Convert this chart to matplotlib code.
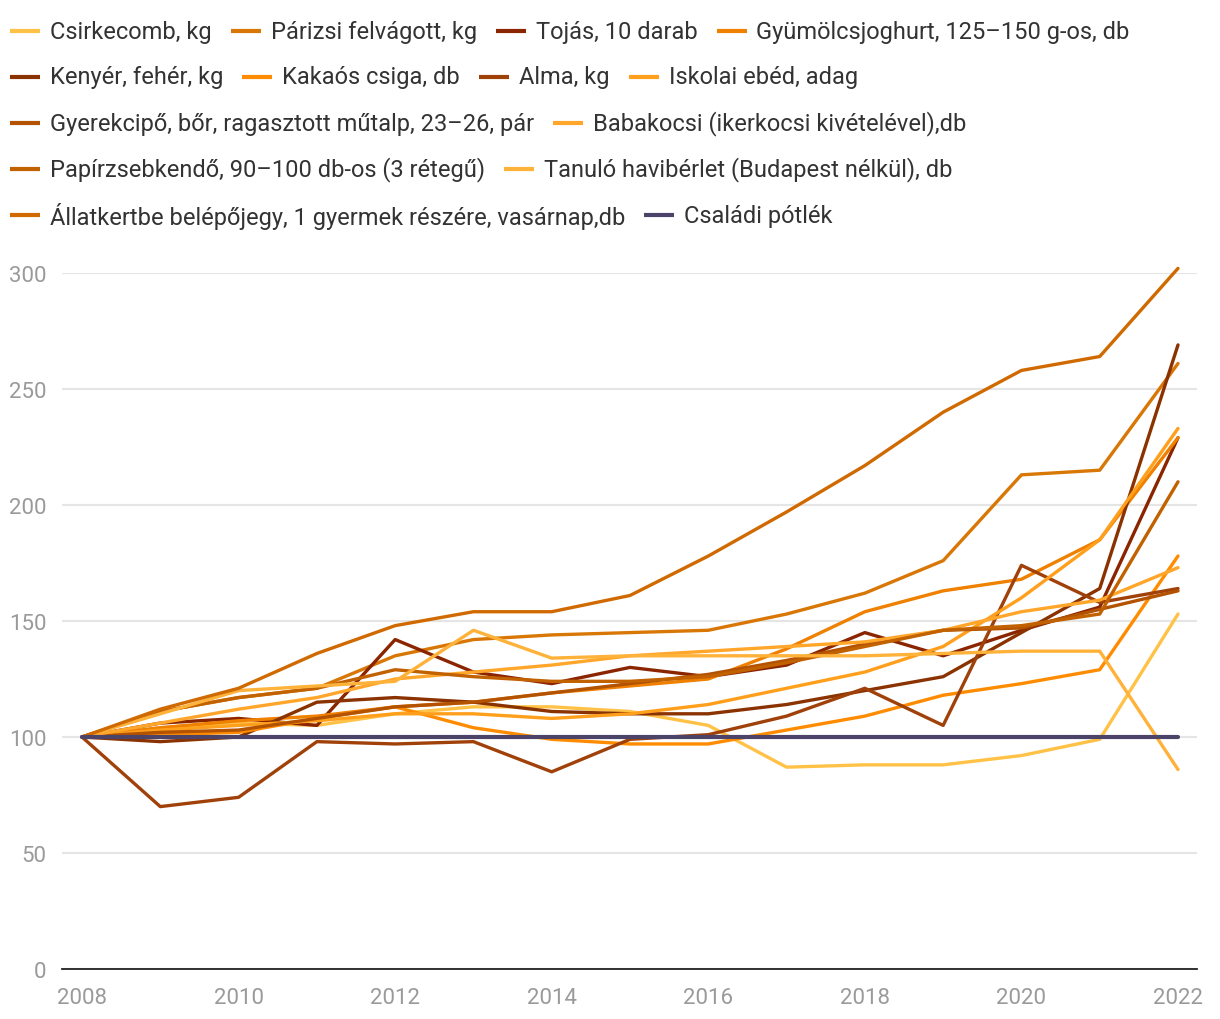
import matplotlib
matplotlib.use("Agg")
import matplotlib.pyplot as plt
from matplotlib.lines import Line2D

plt.rcParams['font.family'] = ['Roboto', 'DejaVu Sans']

years = list(range(2008, 2023))

csirkecomb = [100, 104, 106, 105, 110, 113, 113, 111, 105, 87, 88, 88, 92, 99, 153]
parizsi = [100, 111, 117, 121, 135, 142, 144, 145, 146, 153, 162, 176, 213, 215, 261]
tojas = [100, 106, 108, 105, 142, 128, 123, 130, 126, 131, 145, 135, 146, 156, 229]
joghurt = [100, 104, 107, 109, 113, 115, 119, 122, 125, 138, 154, 163, 168, 185, 229]
kenyer = [100, 98, 100, 115, 117, 115, 111, 110, 110, 114, 120, 126, 145, 164, 269]
kakaos = [100, 101, 102, 108, 113, 104, 99, 97, 97, 103, 109, 118, 123, 129, 178]
alma = [100, 70, 74, 98, 97, 98, 85, 99, 101, 109, 121, 105, 174, 158, 164]
iskolai = [100, 103, 105, 107, 110, 110, 108, 110, 114, 121, 128, 139, 160, 185, 233]
gyerekcipo = [100, 102, 103, 108, 113, 115, 119, 123, 127, 133, 140, 146, 147, 155, 163]
babakocsi = [100, 106, 112, 117, 125, 128, 131, 135, 137, 139, 141, 146, 154, 159, 173]
papirzsebkendo = [100, 111, 117, 121, 129, 126, 124, 124, 126, 132, 139, 146, 148, 153, 210]
tanulo = [100, 110, 120, 122, 124, 146, 134, 135, 135, 135, 135, 136, 137, 137, 86]
allatkert = [100, 112, 121, 136, 148, 154, 154, 161, 178, 197, 217, 240, 258, 264, 302]
csaladi = [100] * 15

labels = [
    "Csirkecomb, kg", "Párizsi felvágott, kg", "Tojás, 10 darab",
    "Gyümölcsjoghurt, 125–150 g-os, db", "Kenyér, fehér, kg", "Kakaós csiga, db",
    "Alma, kg", "Iskolai ebéd, adag", "Gyerekcipő, bőr, ragasztott műtalp, 23–26, pár",
    "Babakocsi (ikerkocsi kivételével),db", "Papírzsebkendő, 90–100 db-os (3 rétegű)",
    "Tanuló havibérlet (Budapest nélkül), db",
    "Állatkertbe belépőjegy, 1 gyermek részére, vasárnap,db", "Családi pótlék",
]
series = [csirkecomb, parizsi, tojas, joghurt, kenyer, kakaos, alma, iskolai,
          gyerekcipo, babakocsi, papirzsebkendo, tanulo, allatkert, csaladi]
colors = ["#FFC247", "#D97706", "#8B2500", "#F08000", "#8B3300", "#FF8C00",
          "#A0410A", "#FF9F1C", "#B35200", "#FFA62B", "#C26100", "#FFB23A",
          "#D06A00", "#4B4468"]
legend_rows = [[0, 1, 2, 3], [4, 5, 6, 7], [8, 9], [10, 11], [12, 13]]

W, H = 1220, 1020
fig = plt.figure(figsize=(W / 100, H / 100), dpi=100)
ax_left, ax_right, ax_bottom, ax_top = 62, 1197, 970, 274
ax = fig.add_axes([ax_left / W, (H - ax_bottom) / H, (ax_right - ax_left) / W, (ax_bottom - ax_top) / H])

x0, x1 = 82, 1178
ppy = (x1 - x0) / 14.0
ax.set_xlim(2008 - (x0 - ax_left) / ppy, 2022 + (ax_right - x1) / ppy)
ax.set_ylim(0, 300)

for i, (s, c) in enumerate(zip(series, colors)):
    lw = 3.0 if i == 13 else 2.4
    ax.plot(years, s, color=c, lw=lw, solid_capstyle='round', solid_joinstyle='round',
            zorder=3 + (5 if i == 13 else 0), clip_on=False)

ax.set_yticks([0, 50, 100, 150, 200, 250, 300])
ax.set_xticks(list(range(2008, 2023, 2)))
ax.grid(axis='y', color='#e5e5e5', lw=1.5, zorder=0)
ax.grid(axis='x', visible=False)
for sp in ['top', 'right', 'left']:
    ax.spines[sp].set_visible(False)
ax.spines['bottom'].set_color('#222222')
ax.spines['bottom'].set_linewidth(1.3)
ax.spines['bottom'].set_zorder(10)
ax.tick_params(axis='both', length=0, labelsize=16, labelcolor='#9a9a9a')
ax.tick_params(axis='y', pad=11)
ax.tick_params(axis='x', pad=13)
ax.set_axisbelow(True)

# Legend, laid out as wrapped rows
fig.canvas.draw()
renderer = fig.canvas.get_renderer()
row_y = [32, 78, 124, 170, 216]
for r, idxs in enumerate(legend_rows):
    x = 10
    y = row_y[r]
    for i in idxs:
        fig.add_artist(Line2D([x / W, (x + 30) / W], [(H - y) / H, (H - y) / H],
                              color=colors[i], lw=3.0, solid_capstyle='butt'))
        t = fig.text((x + 40) / W, (H - y) / H, labels[i], fontsize=17,
                     color='#333333', va='center', ha='left')
        bb = t.get_window_extent(renderer)
        x = bb.x1 + 19

fig.savefig("out.png", dpi=100)
